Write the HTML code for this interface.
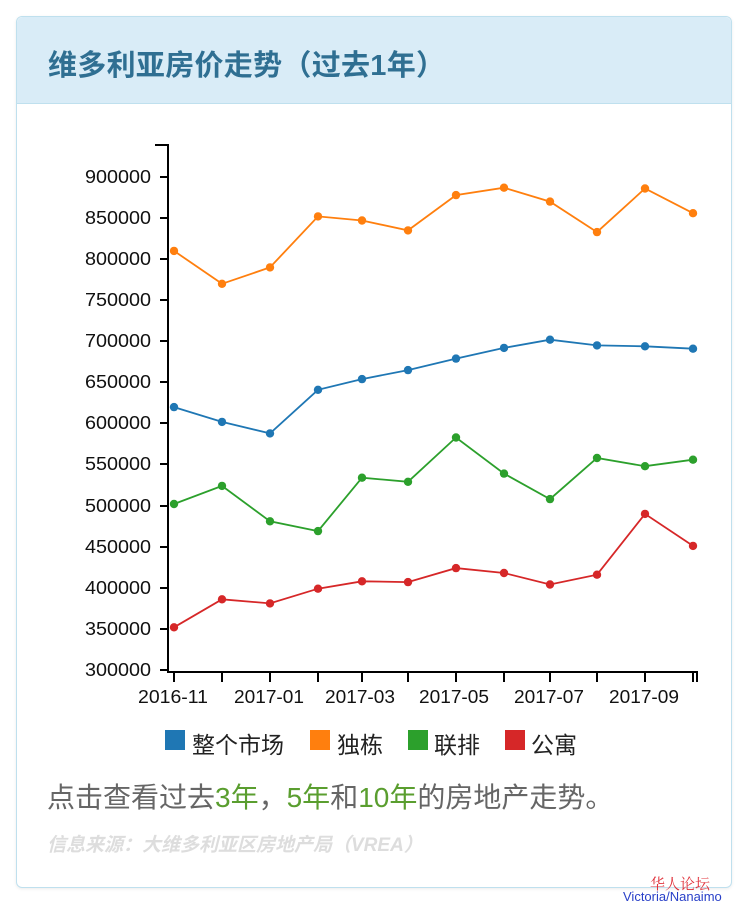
<!DOCTYPE html>
<html><head><meta charset="utf-8"><style>
body{margin:0;width:754px;height:908px;background:#fff;position:relative;font-family:"Liberation Sans","Noto Sans CJK SC",sans-serif;overflow:hidden}
.panel{position:absolute;left:16px;top:16px;width:714px;height:870px;border:1px solid #bfe0ee;border-radius:6px;box-shadow:0 1px 3px rgba(0,0,0,0.08)}
.head{position:absolute;left:0;top:0;width:714px;height:86px;background:#d9ecf7;border-bottom:1px solid #bfe0ee;border-radius:6px 6px 0 0}
.head span{position:absolute;left:31px;top:25px;font-size:29px;font-weight:bold;color:#2f6f92;letter-spacing:0.3px}
.t{position:absolute;white-space:nowrap}
</style></head><body>
<div class="panel"><div class="head"><span>维多利亚房价走势（过去1年）</span></div></div>
<svg width="754" height="908" style="position:absolute;left:0;top:0" font-family="Liberation Sans, sans-serif">
<g stroke="#000" stroke-width="2" fill="none">
<path d="M155,145 H168 V672 H697 V682"/>
<path d="M174,672 V682 M222,672 V682 M270,672 V682 M318,672 V682 M362,672 V682 M408,672 V682 M456,672 V682 M504,672 V682 M550,672 V682 M597,672 V682 M645,672 V682 M693,672 V682"/>
<path d="M160,177H168M160,218H168M160,259H168M160,300H168M160,341H168M160,382H168M160,423H168M160,464H168M160,506H168M160,547H168M160,588H168M160,629H168M160,670H168"/>
</g>
<g font-size="18" text-anchor="end" fill="#111">
<text x="151" y="183" textLength="66" lengthAdjust="spacingAndGlyphs">900000</text><text x="151" y="224" textLength="66" lengthAdjust="spacingAndGlyphs">850000</text><text x="151" y="265" textLength="66" lengthAdjust="spacingAndGlyphs">800000</text><text x="151" y="306" textLength="66" lengthAdjust="spacingAndGlyphs">750000</text><text x="151" y="347" textLength="66" lengthAdjust="spacingAndGlyphs">700000</text><text x="151" y="388" textLength="66" lengthAdjust="spacingAndGlyphs">650000</text><text x="151" y="429" textLength="66" lengthAdjust="spacingAndGlyphs">600000</text><text x="151" y="470" textLength="66" lengthAdjust="spacingAndGlyphs">550000</text><text x="151" y="512" textLength="66" lengthAdjust="spacingAndGlyphs">500000</text><text x="151" y="553" textLength="66" lengthAdjust="spacingAndGlyphs">450000</text><text x="151" y="594" textLength="66" lengthAdjust="spacingAndGlyphs">400000</text><text x="151" y="635" textLength="66" lengthAdjust="spacingAndGlyphs">350000</text><text x="151" y="676" textLength="66" lengthAdjust="spacingAndGlyphs">300000</text>
</g>
<g font-size="18" fill="#111">
<text x="138" y="703" textLength="70" lengthAdjust="spacingAndGlyphs">2016-11</text><text x="234" y="703" textLength="70" lengthAdjust="spacingAndGlyphs">2017-01</text><text x="325" y="703" textLength="70" lengthAdjust="spacingAndGlyphs">2017-03</text><text x="419" y="703" textLength="70" lengthAdjust="spacingAndGlyphs">2017-05</text><text x="514" y="703" textLength="70" lengthAdjust="spacingAndGlyphs">2017-07</text><text x="609" y="703" textLength="70" lengthAdjust="spacingAndGlyphs">2017-09</text>
</g>
<g id="s"></g>
<rect x="165" y="730" width="20" height="20" fill="#1f77b4"/>
<rect x="310" y="730" width="20" height="20" fill="#ff7f0e"/>
<rect x="408" y="730" width="20" height="20" fill="#2ca02c"/>
<rect x="505" y="730" width="20" height="20" fill="#d62728"/>
</svg>
<div class="t" style="left:192px;top:726px;font-size:23px;color:#222">整个市场</div>
<div class="t" style="left:337px;top:726px;font-size:23px;color:#222">独栋</div>
<div class="t" style="left:434px;top:726px;font-size:23px;color:#222">联排</div>
<div class="t" style="left:531px;top:726px;font-size:23px;color:#222">公寓</div>
<div class="t" style="left:47px;top:776px;font-size:28px;color:#666">点击查看过去<span style="color:#5a9e2f">3年</span>，<span style="color:#5a9e2f">5年</span>和<span style="color:#5a9e2f">10年</span>的房地产走势。</div>
<div class="t" style="left:47px;top:830px;font-size:19px;color:#ddd;font-style:italic;font-weight:bold">信息来源：大维多利亚区房地产局（VREA）</div>
<div class="t" style="left:650px;top:873px;font-size:15px;color:#e0303a;font-family:'Noto Serif CJK SC',serif">华人论坛</div>
<div class="t" style="left:623px;top:889px;font-size:13px;color:#2940c8">Victoria/Nanaimo</div>
<script>
var xs=[174,222,270,318,362,408,456,504,550,597,645,693];
var d=[["#1f77b4",[620,602,588,641,654,665,679,692,702,695,694,691]],
["#ff7f0e",[810,770,790,852,847,835,878,887,870,833,886,856]],
["#2ca02c",[502,524,481,469,534,529,583,539,508,558,548,556]],
["#d62728",[352,386,381,399,408,407,424,418,404,416,490,451]]];
var h="";
d.forEach(function(s){var p=s[1].map(function(v,i){return xs[i]+","+(670-(v-300)*493/600).toFixed(1)});
h+='<polyline fill="none" stroke="'+s[0]+'" stroke-width="1.8" points="'+p.join(" ")+'"/>';
p.forEach(function(q){var c=q.split(",");h+='<circle cx="'+c[0]+'" cy="'+c[1]+'" r="4.2" fill="'+s[0]+'"/>';});});
document.getElementById("s").innerHTML=h;
</script>
</body></html>
